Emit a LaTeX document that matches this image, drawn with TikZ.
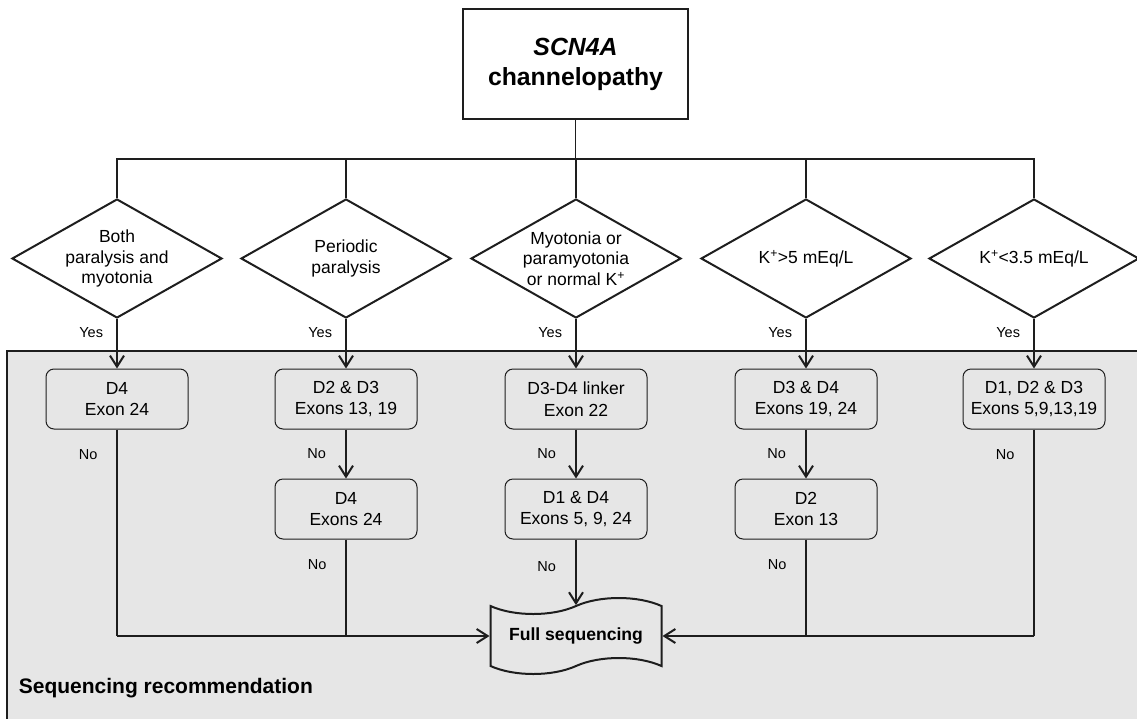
\documentclass[tikz,border=0pt]{standalone}
\usepackage{fontspec}
\setmainfont{Liberation Sans}
\usetikzlibrary{shapes.geometric,shapes.symbols,arrows.meta}
\definecolor{panelgray}{RGB}{230,230,230}
\definecolor{inkgray}{RGB}{30,30,30}

\tikzset{every picture/.style={line width=1pt}}

\begin{document}
\begin{tikzpicture}[x=1pt,y=1pt,yscale=-1,xscale=1,
	decision/.style={diamond, draw=inkgray, line width=2pt, aspect=1.76, inner sep=0pt, minimum width=210pt, minimum height=119pt, align=center, font=\fontsize{17.5}{20.7}\selectfont},
	exonbox/.style={draw=inkgray, rounded corners=8pt, line width=1pt, fill=panelgray, minimum width=142pt, minimum height=60pt, align=center, font=\fontsize{17.5}{21.5}\selectfont},
	flow/.style={draw=inkgray, line width=2pt, -{Straight Barb[length=11pt,width=14pt]}},
	drop/.style={draw=inkgray, line width=1.3pt},
	ans/.style={font=\fontsize{14.5}{17}\selectfont, inner sep=0pt}]
		\clip (0,0) rectangle (1137,718);

		%Shaded panel
		\draw [fill=panelgray, draw=inkgray, line width=1.5pt] (7,351) rectangle (1150,740);

		%Top box
		\node [draw=inkgray, line width=1.2pt, minimum width=225pt, minimum height=110pt, align=center, font=\fontsize{24.8}{30}\selectfont\bfseries] (top) at (575.5,64) {\textit{SCN4A}\\channelopathy};
		\coordinate (bus) at (575.5,159);

		%Decisions
		\node [decision] (d1) at (117,258.5) {Both\\paralysis and\\myotonia};
		\node [decision] (d2) at (346,258.5) {Periodic\\paralysis};
		\node [decision] (d3) at (576,258.5) {Myotonia or\\paramyotonia\\or normal K\textsuperscript{+}};
		\node [decision] (d4) at (806,258.5) {K\textsuperscript{+}>5 mEq/L};
		\node [decision] (d5) at (1034,258.5) {K\textsuperscript{+}<3.5 mEq/L};

		%First tests
		\node [exonbox] (b1) at (117,399) {D4\\Exon 24};
		\node [exonbox] (b2) at (346,399) {D2 \& D3\\Exons 13, 19};
		\node [exonbox] (b3) at (576,399) {D3-D4 linker\\Exon 22};
		\node [exonbox] (b4) at (806,399) {D3 \& D4\\Exons 19, 24};
		\node [exonbox] (b5) at (1034,399) {D1, D2 \& D3\\Exons 5,9,13,19};

		%Second tests
		\node [exonbox] (c2) at (346,509) {D4\\Exons 24};
		\node [exonbox] (c3) at (576,509) {D1 \& D4\\Exons 5, 9, 24};
		\node [exonbox] (c4) at (806,509) {D2\\Exon 13};

		%Full sequencing
		\node [tape, draw=inkgray, line width=2pt, fill=panelgray, tape bend height=16pt, minimum width=171pt, minimum height=76pt, font=\fontsize{17.6}{20}\selectfont\bfseries] (full) at (576,636) {Full sequencing};

		%Tree from the top box
		\draw [draw=inkgray, line width=1.5pt] (top.south) -- (bus);
		\draw [draw=inkgray, line width=1.5pt] (d1.north) -- (d1.north |- bus) -- (d5.north |- bus) -- (d5.north);
		\foreach \d in {d2,d3,d4}
			\draw [draw=inkgray, line width=1.5pt] (\d.north) -- (\d.north |- bus);

		%Yes branches
		\foreach \i in {1,...,5}
			\draw [flow] (d\i.south) -- node [ans, pos=0.28, left=13pt] {Yes} (b\i.north);

		%No branches
		\draw [flow] (b2.south) -- node [ans, pos=0.5, left=19pt] {No} (c2.north);
		\draw [flow] (b3.south) -- node [ans, pos=0.5, left=19pt] {No} (c3.north);
		\draw [flow] (b4.south) -- node [ans, pos=0.5, left=19pt] {No} (c4.north);
		\draw [flow] (c3.south) -- node [ans, pos=0.41, left=19pt] {No} (full.north);

		\draw [drop] (b1.south) -- node [ans, pos=0.12, left=19pt] {No} (b1.south |- full.west);
		\draw [drop] (c2.south) -- node [ans, pos=0.26, left=19pt] {No} (c2.south |- full.west);
		\draw [flow] (b1.south |- full.west) -- (full.west);

		\draw [drop] (b5.south) -- node [ans, pos=0.12, left=19pt] {No} (b5.south |- full.east);
		\draw [drop] (c4.south) -- node [ans, pos=0.26, left=19pt] {No} (c4.south |- full.east);
		\draw [flow] (b5.south |- full.east) -- (full.east);

		% Text Node
		\node [anchor=west, font=\fontsize{21}{25}\selectfont\bfseries] (rec) at (15,688) {Sequencing recommendation};

\end{tikzpicture}
\end{document}
